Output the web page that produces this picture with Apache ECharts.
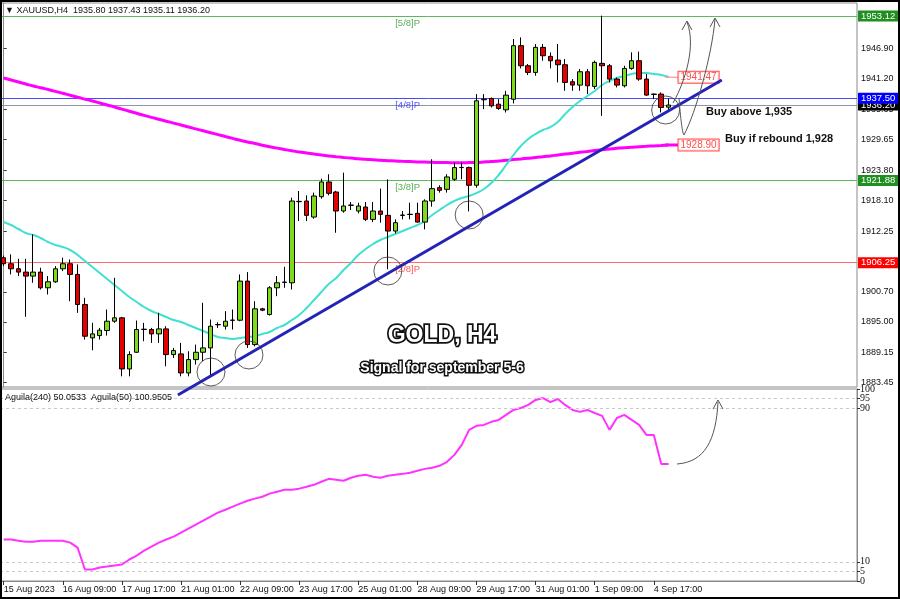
<!DOCTYPE html>
<html><head><meta charset="utf-8">
<script src="https://cdn.jsdelivr.net/npm/echarts@6/dist/echarts.min.js"></script>
<style>html,body{margin:0;padding:0;background:#fff}#c{width:900px;height:599px}</style>
</head><body><div id="c"></div><script>
// ---- candle data (XAUUSD H4) ----
const opens=[1907.19,1906.05,1905.09,1904.46,1903.70,1904.46,1901.48,1902.62,1905.09,1906.05,
1904.02,1898.31,1891.96,1892.40,1893.36,1895.13,1895.77,1886.06,1889.23,1893.55,
1893.55,1892.72,1893.67,1888.79,1888.92,1885.30,1887.84,1889.23,1890.06,1894.50,
1894.18,1895.30,1895.32,1902.75,1890.69,1897.48,1896.40,1901.48,1902.50,1902.43,
1917.84,1917.97,1914.92,1918.79,1921.59,1919.68,1916.07,1917.14,1916.07,1916.83,
1914.48,1916.07,1915.24,1912.26,1915.24,1915.40,1915.62,1913.97,1917.97,1920.51,
1920.19,1922.10,1924.32,1924.32,1920.96,1937.20,1937.45,1936.37,1935.29,1937.30,
1947.48,1943.67,1942.40,1947.16,1945.45,1944.75,1943.86,1940.63,1939.99,1942.53,
1939.74,1944.12,1943.67,1941.13,1939.86,1943.16,1944.62,1941.13,1938.28,1938.28,1935.80];
const highs=[1907.60,1907.82,1907.00,1907.00,1911.63,1905.28,1903.70,1905.60,1907.19,1906.87,
1905.92,1899.57,1894.82,1893.86,1897.35,1903.38,1895.96,1889.42,1895.26,1894.82,
1893.86,1896.72,1894.18,1890.06,1891.01,1889.42,1890.69,1898.62,1895.45,1894.94,
1897.04,1897.35,1904.02,1904.46,1898.94,1897.67,1901.79,1903.70,1905.47,1918.60,
1919.87,1919.05,1919.56,1922.22,1923.05,1919.90,1923.36,1917.78,1917.65,1917.78,
1917.78,1920.32,1922.09,1914.48,1916.07,1917.65,1917.65,1918.29,1925.90,1920.96,
1923.05,1925.27,1925.27,1924.51,1938.28,1938.28,1937.64,1937.32,1938.91,1948.75,
1949.06,1943.99,1947.79,1947.79,1946.21,1947.79,1944.94,1941.13,1943.04,1943.04,
1944.62,1953.19,1943.99,1941.45,1943.67,1946.21,1946.34,1942.09,1938.40,1938.60,1937.43];
const lows=[1905.60,1904.02,1903.70,1895.96,1902.43,1901.16,1900.21,1902.43,1904.65,1898.94,
1896.72,1891.64,1889.61,1891.64,1892.40,1894.82,1884.66,1884.66,1889.11,1891.33,
1891.01,1891.01,1886.57,1888.15,1884.66,1884.66,1886.89,1887.52,1884.66,1893.86,
1893.55,1893.55,1895.13,1890.06,1890.37,1897.04,1896.21,1899.89,1901.48,1901.16,
1914.16,1914.16,1914.61,1918.41,1919.05,1911.94,1915.75,1916.26,1915.62,1914.16,
1913.97,1913.85,1905.00,1911.82,1914.48,1914.48,1913.85,1912.58,1916.89,1919.56,
1919.56,1921.78,1922.10,1916.00,1920.51,1935.42,1935.74,1935.29,1934.79,1936.50,
1943.16,1941.89,1941.77,1944.62,1943.16,1940.50,1938.91,1938.91,1938.91,1938.28,
1939.23,1934.15,1940.50,1939.55,1939.55,1942.91,1940.82,1937.96,1937.33,1934.79,1935.11];
const closes=[1906.05,1905.09,1904.46,1903.70,1904.46,1901.48,1902.62,1905.09,1906.05,1904.02,
1898.31,1892.28,1892.72,1893.42,1895.13,1895.77,1886.06,1888.79,1893.55,1893.62,
1892.72,1893.67,1888.79,1889.55,1885.30,1887.84,1889.23,1890.06,1894.18,1894.45,
1895.13,1895.34,1902.75,1890.69,1897.48,1897.23,1901.48,1902.43,1902.56,1917.97,
1917.90,1915.24,1918.92,1921.59,1919.43,1916.07,1917.02,1917.20,1917.02,1914.48,
1916.07,1915.43,1912.26,1913.85,1915.30,1915.45,1913.97,1917.97,1920.32,1920.00,
1922.54,1924.32,1924.35,1920.96,1937.01,1937.32,1936.05,1935.55,1938.08,1947.48,
1943.67,1942.40,1947.16,1945.57,1944.62,1943.86,1940.50,1940.00,1942.53,1939.86,
1944.31,1943.67,1941.13,1939.99,1943.16,1944.62,1941.13,1938.09,1938.22,1935.74,1936.20];
// ---- moving averages ----
const maFast=[1913.98,1913.41,1912.65,1911.89,1911.51,1910.94,1910.18,1909.61,1909.23,1908.66,
1907.71,1906.57,1905.43,1904.29,1903.15,1902.01,1900.87,1899.73,1898.78,1897.83,
1897.07,1896.50,1895.93,1895.36,1894.98,1894.41,1893.84,1893.27,1892.70,1892.13,
1891.94,1891.75,1891.94,1892.13,1892.32,1892.70,1893.08,1893.84,1894.41,1895.36,
1896.31,1897.64,1899.16,1900.68,1902.20,1903.34,1904.86,1906.19,1907.71,1908.85,
1909.80,1910.56,1911.13,1911.70,1912.27,1912.84,1913.41,1914.17,1915.31,1916.26,
1917.21,1917.97,1918.54,1918.92,1919.49,1920.25,1921.39,1922.91,1924.81,1926.71,
1928.42,1929.75,1930.70,1931.46,1932.03,1932.98,1934.50,1935.83,1936.97,1937.92,
1938.87,1940.01,1940.77,1941.34,1941.72,1942.10,1942.29,1942.29,1942.10,1941.91,1941.53];
const maSlow=[1941.34,1940.96,1940.58,1940.20,1939.82,1939.50,1939.15,1938.79,1938.43,1938.07,
1937.69,1937.33,1936.97,1936.59,1936.21,1935.83,1935.43,1935.03,1934.63,1934.23,
1933.85,1933.49,1933.13,1932.77,1932.41,1932.03,1931.67,1931.31,1930.95,1930.59,
1930.22,1929.86,1929.50,1929.18,1928.88,1928.57,1928.29,1928.02,1927.76,1927.51,
1927.28,1927.09,1926.90,1926.71,1926.54,1926.39,1926.25,1926.12,1926.01,1925.89,
1925.80,1925.70,1925.63,1925.57,1925.51,1925.46,1925.40,1925.36,1925.32,1925.28,
1925.27,1925.25,1925.25,1925.27,1925.30,1925.38,1925.47,1925.59,1925.70,1925.84,
1925.97,1926.10,1926.23,1926.39,1926.54,1926.71,1926.88,1927.05,1927.22,1927.39,
1927.56,1927.72,1927.85,1927.98,1928.10,1928.19,1928.29,1928.36,1928.44,1928.51,1928.59];
// ---- oscillator (Aguila) ----
const aguila=[21.6,21.6,21.0,20.5,20.5,21.0,21.0,21.0,21.0,20.0,
17.4,6.0,6.0,7.0,7.5,8.1,8.6,11.2,13.2,15.8,
17.9,20.0,21.6,23.1,25.2,27.3,29.4,31.4,33.5,35.6,
37.1,38.7,40.3,41.8,42.9,43.9,45.5,46.5,47.5,47.5,
48.1,49.1,50.1,51.7,53.2,52.7,52.2,53.8,54.8,55.3,
54.3,53.8,54.8,55.3,55.8,56.4,57.4,58.4,59.0,60.0,
62.1,65.7,70.9,78.7,80.8,81.3,82.9,83.9,86.5,89.1,
90.1,91.7,94.3,95.3,93.2,94.8,91.7,89.1,88.1,89.1,
87.5,86.0,78.7,84.9,86.5,83.9,81.3,76.1,76.1,61.0,61.0];
// ---- axis labels ----
const timeLabels=['15 Aug 2023','16 Aug 09:00','17 Aug 17:00','21 Aug 01:00','22 Aug 09:00','23 Aug 17:00',
'25 Aug 01:00','28 Aug 09:00','29 Aug 17:00','31 Aug 01:00','1 Sep 09:00','4 Sep 17:00'];
const priceTicks=[1883.45,1889.15,1895.00,1900.70,1906.40,1912.25,1918.10,1923.80,1929.65,1935.35,1941.20,1946.90];
const oscTicksA=[0,10,90,100];
const oscTicksB=[5,95];
const oscLevels=[5,10,90,95];
// ---- annotations in data space ----
const levelVals=[1953.12,1937.50,1921.88,1906.25];
const levelNames=['[5/8]P','[4/8]P','[3/8]P','[2/8]P'];
const levelColors=['#5cb85c','#4a4aff','#5cb85c','#ff6a6a'];
const levelTextColors=['#2f9a2f','#2a2aff','#2f9a2f','#ff2a2a'];
const levelBoxColors=['#1f8f1f','#0000ff','#1f8f1f','#ff0000'];
const bidPrice=1936.20;
const trendPts=[[23.58,1881.11],[97.2,1940.96]];
const circlePts=[[28.06,1885.48],[33.2,1888.71],[52.0,1904.67],[63.0,1915.31],[89.6,1935.26]];
const maFastLabel=1941.47, maSlowLabel=1928.90;

const N=116, LABEL_X=91.27, LEVEL_TEXT_X=53.2;
const cats=[];for(let i=0;i<N;i++)cats.push(String(i));
const candles=opens.map((o,i)=>[o,closes[i],lows[i],highs[i]]);
const FONT='Liberation Sans';

const chart=echarts.init(document.getElementById('c'),null,{renderer:'canvas'});
const levelLines=[{yAxis:bidPrice,lineStyle:{color:'#8c98aa',width:1,type:'solid'},
  label:{show:true,position:'end',distance:1,formatter:bidPrice.toFixed(2),color:'#fff',backgroundColor:'#000',
  padding:[1,3,0,3],fontFamily:FONT,fontSize:9.5}}];
levelVals.forEach((v,k)=>levelLines.push({yAxis:v,lineStyle:{color:levelColors[k],width:1,type:'solid'},
  label:{show:true,position:'end',distance:1,formatter:v.toFixed(2),color:'#fff',backgroundColor:levelBoxColors[k],
  padding:[1,3,0,3],fontFamily:FONT,fontSize:9.5}}));

const tickFn=(i)=>i%8===0 && i/8<timeLabels.length;
const oscLabel={show:true,showMinLabel:true,showMaxLabel:true,hideOverlap:false,margin:3,
  color:'#111',fontFamily:'Liberation Serif',fontSize:10};
const option={
  animation:false,
  backgroundColor:'#fff',
  grid:[
    {left:0,right:43,top:3,height:384,show:true,borderColor:'#8a8a8a',borderWidth:1},
    {left:0,right:43,top:389,height:192,show:true,borderColor:'#8a8a8a',borderWidth:1}
  ],
  xAxis:[
    {type:'category',gridIndex:0,data:cats,boundaryGap:true,axisLine:{show:false},axisTick:{show:false},axisLabel:{show:false},splitLine:{show:false}},
    {type:'value',gridIndex:0,min:-0.5,max:N-0.5,show:false},
    {type:'category',gridIndex:1,data:cats,boundaryGap:true,axisLine:{show:true,lineStyle:{color:'#8a8a8a'}},
      axisTick:{show:true,alignWithLabel:true,interval:tickFn,length:4,lineStyle:{color:'#333'}},
      axisLabel:{show:true,interval:tickFn,formatter:(v,i)=>timeLabels[i/8]||'',align:'left',margin:4,
        color:'#111',fontFamily:FONT,fontSize:9},splitLine:{show:false}}
  ],
  yAxis:[
    {type:'value',gridIndex:0,position:'right',min:1882.63,max:1955.59,scale:true,
      axisLine:{show:true,lineStyle:{color:'#8a8a8a'}},
      axisTick:{show:true,customValues:priceTicks,length:3,lineStyle:{color:'#333'}},
      axisLabel:{show:true,customValues:priceTicks,formatter:v=>v.toFixed(2),margin:4,color:'#111',fontFamily:FONT,fontSize:9},
      splitLine:{show:false}},
    {type:'value',gridIndex:1,position:'right',min:0,max:100,
      axisLine:{show:true,lineStyle:{color:'#8a8a8a'}},
      axisTick:{show:true,customValues:oscTicksA.concat(oscTicksB),length:3,lineStyle:{color:'#333'}},
      axisLabel:Object.assign({customValues:oscTicksA},oscLabel),
      splitLine:{show:false}},
    {type:'value',gridIndex:1,position:'right',min:0,max:100,
      axisLine:{show:false},axisTick:{show:false},
      axisLabel:Object.assign({customValues:oscTicksB},oscLabel),
      splitLine:{show:false}}
  ],
  series:[
    {type:'line',name:'maSlow',xAxisIndex:0,yAxisIndex:0,data:maSlow,symbol:'none',smooth:true,
      lineStyle:{color:'#ff00ff',width:3},z:3,
      markLine:{silent:true,symbol:'none',animation:false,data:levelLines,z:1}},
    {type:'line',name:'maFast',xAxisIndex:0,yAxisIndex:0,data:maFast,symbol:'none',smooth:true,
      lineStyle:{color:'#3fe0d0',width:2},z:3},
    {type:'candlestick',xAxisIndex:0,yAxisIndex:0,data:candles,barWidth:5,
      itemStyle:{color:'#7edb1c',color0:'#e60000',borderColor:'#000',borderColor0:'#000',borderColorDoji:'#000',borderWidth:1},z:4},
    {type:'line',xAxisIndex:1,yAxisIndex:0,data:[[89.5,maFast[90]],[LABEL_X,maFastLabel]],symbol:'none',
      lineStyle:{color:'#ff8080',width:1},z:3},
    {type:'line',xAxisIndex:1,yAxisIndex:0,data:[[89.5,maSlow[90]],[LABEL_X,maSlow[90]]],symbol:'none',
      lineStyle:{color:'#ff00ff',width:3},z:3},
    {type:'scatter',xAxisIndex:1,yAxisIndex:0,symbolSize:1,itemStyle:{color:'rgba(0,0,0,0)'},
      data:[[LABEL_X,maFastLabel],[LABEL_X,maSlow[90]]],
      label:{show:true,position:'right',distance:0,formatter:p=>p.dataIndex===0?maFastLabel.toFixed(2):maSlowLabel.toFixed(2),
        color:'#ff2020',backgroundColor:'#fff',borderColor:'#ff2020',borderWidth:1,padding:[1,2,0,2],fontFamily:FONT,fontSize:10},z:6},
    {type:'scatter',xAxisIndex:1,yAxisIndex:0,symbolSize:1,itemStyle:{color:'rgba(0,0,0,0)'},
      data:levelVals.map((v,k)=>({value:[LEVEL_TEXT_X,v],label:{color:levelTextColors[k]}})),
      label:{show:true,position:'right',distance:0,offset:[-2,7],formatter:p=>levelNames[p.dataIndex],
        fontFamily:FONT,fontSize:9.5},z:6},
    {type:'line',xAxisIndex:1,yAxisIndex:0,data:trendPts,symbol:'none',clip:false,
      lineStyle:{color:'#2323b8',width:3},z:7},
    {type:'scatter',xAxisIndex:1,yAxisIndex:0,data:circlePts,symbol:'circle',symbolSize:28,clip:false,
      itemStyle:{color:'rgba(0,0,0,0)',borderColor:'#333',borderWidth:1},z:8},
    {type:'line',xAxisIndex:2,yAxisIndex:1,data:aguila,symbol:'none',lineStyle:{color:'#ff33ff',width:2},z:3,
      markLine:{silent:true,symbol:'none',label:{show:false},lineStyle:{color:'#c8c8c8',type:[3,3],width:1},
        data:oscLevels.map(v=>({yAxis:v}))}}
  ],
  graphic:[
    {type:'rect',shape:{x:0,y:0,width:900,height:599},style:{fill:'none',stroke:'#000',lineWidth:4},z:100,silent:true},
    {type:'text',x:5,y:11,style:{text:'▼ XAUUSD,H4  1935.80 1937.43 1935.11 1936.20',fill:'#111',font:'9px "Liberation Sans"',textVerticalAlign:'middle'},z:50},
    {type:'text',x:5,y:398,style:{text:'Aguila(240) 50.0533  Aguila(50) 100.9505',fill:'#111',font:'9px "Liberation Sans"',textVerticalAlign:'middle'},z:50},
    {type:'text',x:442,y:336,style:{text:'GOLD, H4',fill:'#fff',stroke:'#111',lineWidth:3.5,font:'bold 23px "Liberation Sans"',textAlign:'center',textVerticalAlign:'middle'},z:50},
    {type:'text',x:442,y:368,style:{text:'Signal for september 5-6',fill:'#fff',stroke:'#111',lineWidth:3,font:'bold 14px "Liberation Sans"',textAlign:'center',textVerticalAlign:'middle'},z:50},
    {type:'text',x:706,y:112,style:{text:'Buy above 1,935',fill:'#111',font:'bold 11px "Liberation Sans"',textVerticalAlign:'middle'},z:50},
    {type:'text',x:725,y:139,style:{text:'Buy if rebound 1,928',fill:'#111',font:'bold 11px "Liberation Sans"',textVerticalAlign:'middle'},z:50},
    {type:'bezierCurve',shape:{x1:673,y1:103,cpx1:686,cpy1:80,cpx2:696,cpy2:45,x2:687,y2:22},style:{stroke:'#555',lineWidth:1,fill:'none'},z:50},
    {type:'polyline',shape:{points:[[682,30],[687,21],[692,30]]},style:{stroke:'#555',lineWidth:1,fill:'none'},z:50},
    {type:'bezierCurve',shape:{x1:679,y1:98,cpx1:681,cpy1:125,cpx2:683,cpy2:135,x2:684,y2:135},style:{stroke:'#555',lineWidth:1,fill:'none'},z:50},
    {type:'bezierCurve',shape:{x1:684,y1:135,cpx1:696,cpy1:112,cpx2:712,cpy2:55,x2:715,y2:19},style:{stroke:'#555',lineWidth:1,fill:'none'},z:50},
    {type:'polyline',shape:{points:[[710,27],[715,18],[720,27]]},style:{stroke:'#555',lineWidth:1,fill:'none'},z:50},
    {type:'bezierCurve',shape:{x1:677,y1:464,cpx1:705,cpy1:462,cpx2:716,cpy2:440,x2:718,y2:402},style:{stroke:'#555',lineWidth:1,fill:'none'},z:50},
    {type:'polyline',shape:{points:[[713,409],[718,400],[723,409]]},style:{stroke:'#555',lineWidth:1,fill:'none'},z:50}
  ]
};
chart.setOption(option);
</script></body></html>
